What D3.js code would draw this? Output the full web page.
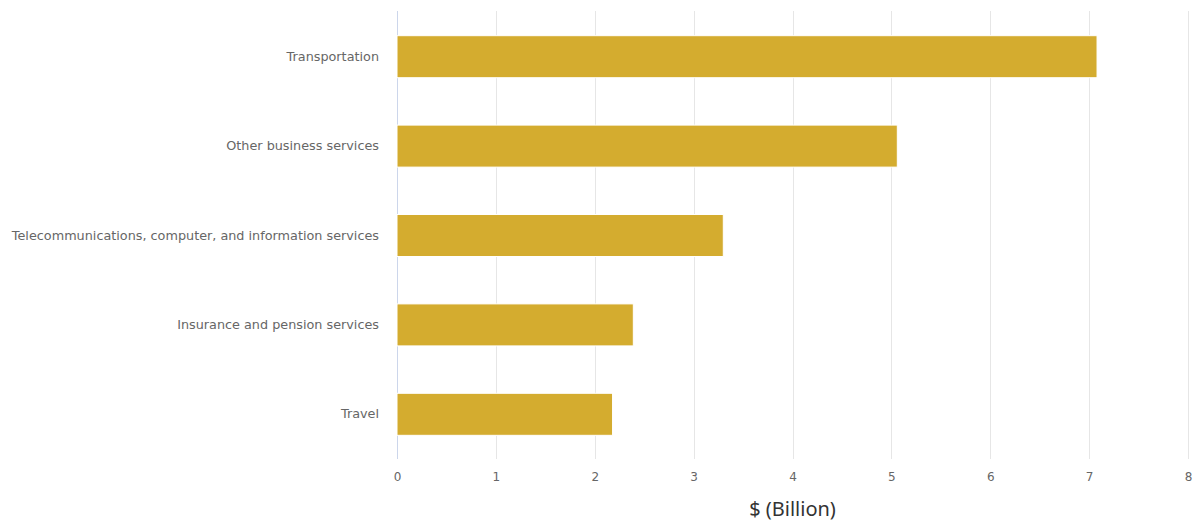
<!DOCTYPE html>
<html>
<head>
<meta charset="utf-8">
<script src="https://cdn.jsdelivr.net/npm/d3@7"></script>
<style>
  body { margin: 0; background: #fff; }
  svg { display: block; }
</style>
</head>
<body>
<svg id="chart"></svg>
<script>
// data
var categories = ["Transportation", "Other business services",
  "Telecommunications, computer, and information services",
  "Insurance and pension services", "Travel"];
var values = [7.08, 5.06, 3.30, 2.39, 2.18];
var xTicks = [0, 1, 2, 3, 4, 5, 6, 7, 8];
var axisTitle = "$ (Billion)";

var width = 1202, height = 525,
    margin = { top: 12, right: 14, bottom: 66, left: 397 };

var svg = d3.select("#chart")
    .attr("width", width)
    .attr("height", height);

var g = svg.append("g")
    .attr("transform", "translate(" + margin.left + "," + margin.top + ")");

var w = width - margin.left - margin.right,
    h = height - margin.top - margin.bottom;

var x = d3.scaleLinear().domain([0, 8]).range([0, w]);
var y = d3.scaleBand().domain(categories).range([0, h])
    .paddingInner(0.53).paddingOuter(0.265);

// vertical grid lines
g.append("g")
  .selectAll("line")
  .data(xTicks)
  .enter().append("line")
    .attr("x1", function(d) { return Math.round(x(d)) + 0.5; })
    .attr("x2", function(d) { return Math.round(x(d)) + 0.5; })
    .attr("y1", -1)
    .attr("y2", h)
    .attr("stroke", function(d) { return d === 0 ? "#ccd6eb" : "#e6e6e6"; })
    .attr("stroke-width", 1);

// bars
g.append("g")
  .selectAll("rect")
  .data(values)
  .enter().append("rect")
    .attr("x", x(0))
    .attr("y", function(d, i) { return y(categories[i]); })
    .attr("width", function(d) { return x(d) - x(0); })
    .attr("height", y.bandwidth())
    .attr("fill", "#d4ac2f")
    .attr("stroke", "#fff")
    .attr("stroke-width", 1);

// x axis
var xAxis = g.append("g")
    .attr("transform", "translate(0," + h + ")")
    .call(d3.axisBottom(x).tickValues(xTicks).tickSize(0).tickPadding(13).tickFormat(d3.format("d")));
xAxis.select(".domain").remove();
xAxis.selectAll("text")
    .attr("fill", "#666")
    .style("font-family", "'DejaVu Sans', sans-serif")
    .style("font-size", "12px");

// y axis
var yAxis = g.append("g")
    .call(d3.axisLeft(y).tickSize(0).tickPadding(18));
yAxis.select(".domain").remove();
yAxis.selectAll("text")
    .attr("fill", "#666")
    .style("font-family", "'DejaVu Sans', sans-serif")
    .style("font-size", "12.8px");

// axis title
svg.append("text")
    .attr("x", margin.left + w / 2)
    .attr("y", 516)
    .attr("text-anchor", "middle")
    .attr("fill", "#333")
    .style("font-family", "'Noto Sans', sans-serif")
    .style("font-size", "20px")
    .text(axisTitle);
</script>
</body>
</html>
